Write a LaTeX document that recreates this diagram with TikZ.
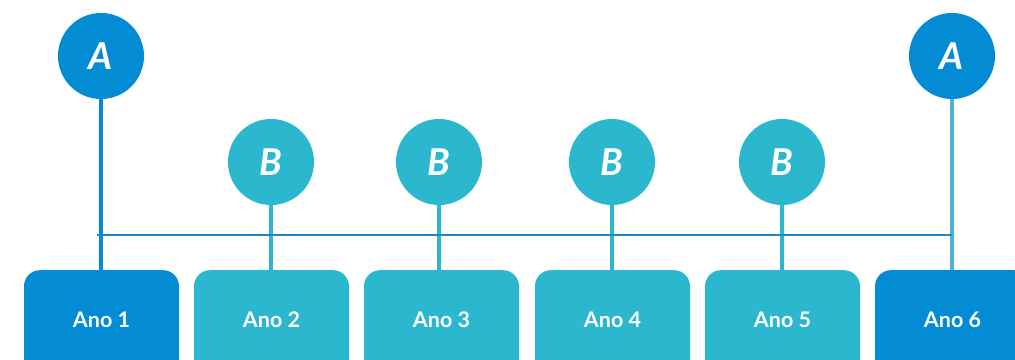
\documentclass[tikz,border=0pt]{standalone}
\usepackage{fontspec}
\setmainfont{Lato}
\definecolor{dblue}{HTML}{038BD3}
\definecolor{teal}{HTML}{2BB8CE}
\definecolor{lblue}{HTML}{4AB3D6}
\definecolor{hline}{HTML}{1F86C6}
\begin{document}
\begin{tikzpicture}[x=1pt,y=-1pt,
  circ/.style={circle,minimum size=86pt,inner sep=0pt,text=white,font=\fontsize{37}{37}\selectfont\bfseries\itshape},
  yearbox/.style={rounded corners=16pt,minimum width=155pt,minimum height=110pt,inner sep=0pt},
  yeartext/.style={text=white,font=\fontsize{21.5}{21.5}\selectfont\bfseries},
  stem/.style={line width=4pt}]
\clip (0,0) rectangle (1015,359);
\fill[white] (0,0) rectangle (1015,359);
% boxes (top at y=270)
\foreach \i/\x/\c in {1/101.5/dblue,2/271.5/teal,3/441.5/teal,4/612.5/teal,5/782.5/teal,6/952.5/dblue}{
  \node[yearbox,fill=\c,anchor=north] (y\i) at (\x,270) {};
}
\foreach \i/\x in {1/101.5,2/271.5,3/441.5,4/612.5,5/782.5,6/952.5}{
  \node[yeartext] (t\i) at (\x,320) {Ano \i};
}
\node[circ,fill=dblue] (a1) at (101,56) {A};
\node[circ,fill=dblue] (a6) at (952,56) {A};
\node[circ,fill=teal] (b2) at (271,162) {B};
\node[circ,fill=teal] (b3) at (439,162) {B};
\node[circ,fill=teal] (b4) at (612,162) {B};
\node[circ,fill=teal] (b5) at (782,162) {B};
\draw[stem,dblue] (a1.south) -- (a1.south |- y1.north);
\draw[stem,lblue] (a6.south) -- (a6.south |- y6.north);
\foreach \b in {2,3,4,5}{
  \draw[stem,teal] (b\b.south) -- (b\b.south |- y\b.north);
}
\coordinate (hl) at (97,235);
\coordinate (hr) at (952,235);
\draw[hline,line width=1.2pt] (hl) -- (hr);
\end{tikzpicture}
\end{document}
